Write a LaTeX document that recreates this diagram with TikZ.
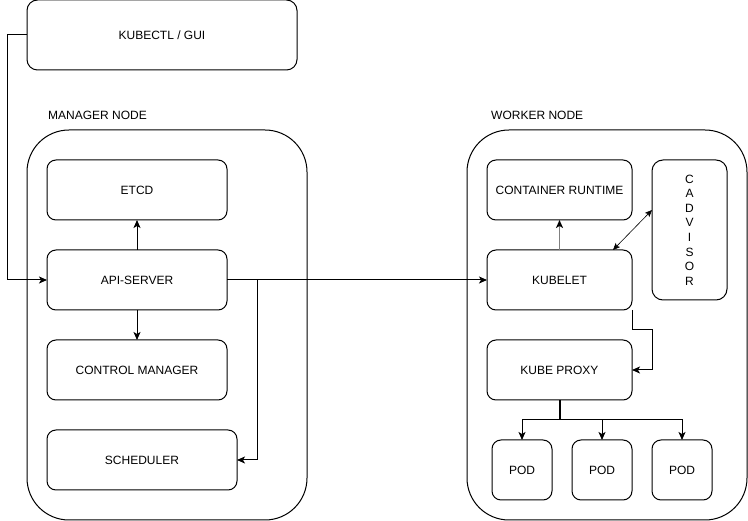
\documentclass[tikz,border=0pt]{standalone}
\usepackage{fontspec}
\setmainfont{Liberation Sans}
\usetikzlibrary{arrows.meta}
\begin{document}
\begin{tikzpicture}[x=1pt,y=-1pt,
  txt/.style={font=\fontsize{12}{14}\selectfont},
  box/.style={draw, line width=1pt, rounded corners=9pt, inner sep=0pt, outer sep=0pt, txt, align=center},
  cont/.style={draw, line width=1pt, rounded corners=42pt, inner sep=0pt, outer sep=0pt, minimum width=280pt, minimum height=390pt},
  lab/.style={txt, anchor=west, inner sep=0pt},
  arr/.style={line width=1pt, -{Stealth[length=8pt,width=7pt,inset=2pt]}},
  grayarr/.style={line width=1.5pt, draw=black!50, -{Stealth[length=8pt,width=7pt,inset=2pt,color=black]}},
  biarr/.style={line width=0.6pt, {Stealth[length=7pt,width=6pt,inset=1.5pt]}-{Stealth[length=7pt,width=6pt,inset=1.5pt]}},
]
\useasboundingbox (0,0) rectangle (748,521);

% containers
\node[cont] (mgr) at (167,325) {};
\node[cont] (wrk) at (607,325) {};
\node[lab] (mgrlab) at (48,115) {MANAGER NODE};
\node[lab] (wrklab) at (491,115) {WORKER NODE};

% top
\node[box, rounded corners=10.5pt, minimum width=270pt, minimum height=70pt] (kubectl) at (162,35) {KUBECTL / GUI};

% manager
\node[box, minimum width=180pt, minimum height=60pt] (etcd) at (137,190) {ETCD};
\node[box, minimum width=180pt, minimum height=60pt] (api) at (137,280) {API-SERVER};
\node[box, minimum width=180pt, minimum height=60pt] (ctrl) at (137,370) {CONTROL MANAGER};
\node[box, minimum width=190pt, minimum height=60pt] (sched) at (142,460) {SCHEDULER};

% worker
\node[box, minimum width=145pt, minimum height=60pt] (crt) at (559.5,190) {CONTAINER RUNTIME};
\node[box, minimum width=145pt, minimum height=60pt] (kubelet) at (559.5,280) {KUBELET};
\node[box, minimum width=145pt, minimum height=60pt] (proxy) at (559.5,370) {KUBE PROXY};
\node[box, rounded corners=11pt, minimum width=75pt, minimum height=140pt, font=\fontsize{12}{14.6}\selectfont] (cadv) at (689.5,230) {C\\A\\D\\V\\I\\S\\O\\R};
\node[box, minimum width=60pt, minimum height=60pt] (pod1) at (522,470) {POD};
\node[box, minimum width=60pt, minimum height=60pt] (pod2) at (602,470) {POD};
\node[box, minimum width=60pt, minimum height=60pt] (pod3) at (682,470) {POD};

% connectors
\draw[arr] (kubectl.west) -- ++(-20,0) |- (api.west);
\draw[arr] (api.north) -- (etcd.south);
\draw[arr] (api.south) -- (ctrl.north);
\draw[arr] (api.east) -- (kubelet.west);
\draw[arr] (api.east) -- ++(30,0) |- (sched.east);
\draw[grayarr] (kubelet.north) -- (crt.south);
\draw[biarr] ([xshift=-19pt]kubelet.north east) -- ([yshift=20pt]cadv.west);
\draw[arr] (kubelet.south east) -- ++(0,20) -- ++(20,0) |- (proxy.east);
\draw[line width=2pt] (proxy.south) -- ++(0,20) coordinate (br);
\draw[arr] (br) -| (pod1.north);
\draw[arr] (br) -- (pod2.north |- br) -- (pod2.north);
\draw[arr] (br) -| (pod3.north);
\end{tikzpicture}
\end{document}
